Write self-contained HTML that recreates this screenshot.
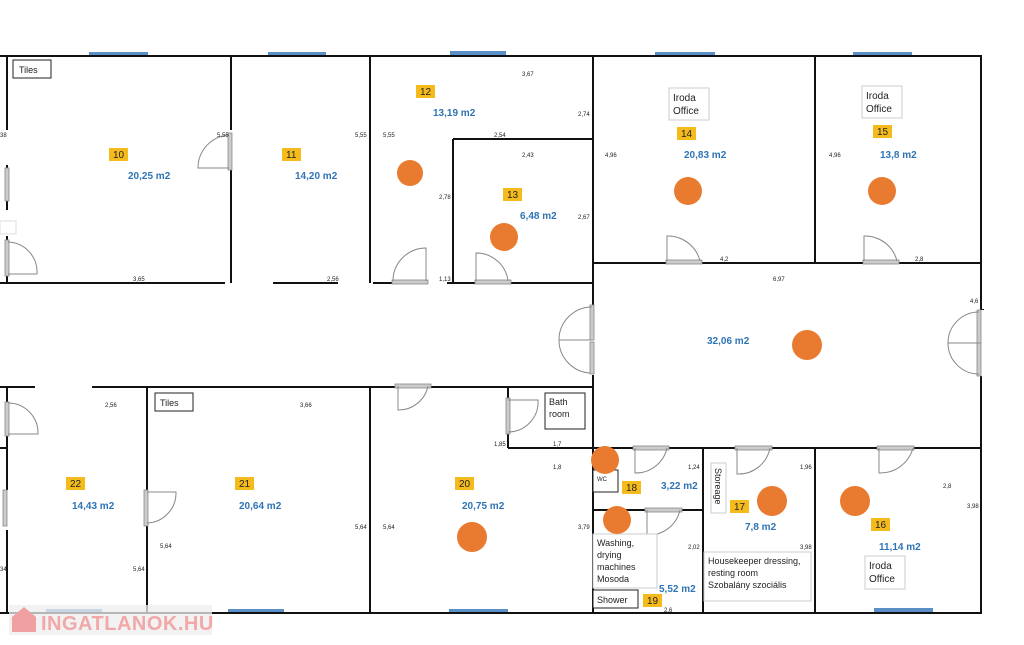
<!DOCTYPE html>
<html><head><meta charset="utf-8"><style>
body{margin:0;background:#fff}
svg{display:block}
text{font-family:"Liberation Sans",sans-serif}
.d{font-size:6px;fill:#222}
.a{font-size:10px;fill:#2e74b5;font-weight:bold}
.n{font-size:10px;fill:#222}
.l{font-size:9px;fill:#222}
.w{stroke:#111;stroke-width:2;fill:none}
.arc{stroke:#888;stroke-width:1;fill:none}
.lf{fill:#ccc;stroke:#888;stroke-width:.8}
.win{fill:#5b8fc7}
.c{fill:#e97b31}
.y{fill:#f5bb1c}
</style></head><body>
<svg width="1024" height="645" viewBox="0 0 1024 645">
<!-- windows -->
<g class="win">
<rect x="89" y="52" width="59" height="5"/><rect x="268" y="52" width="58" height="5"/><rect x="450" y="51" width="56" height="6"/><rect x="655" y="52" width="60" height="5"/><rect x="853" y="52" width="59" height="5"/>
<rect x="46" y="609" width="56" height="5"/><rect x="228" y="609" width="56" height="5"/><rect x="449" y="609" width="59" height="5"/><rect x="874" y="608" width="59" height="6"/>
</g>
<!-- walls -->
<path class="w" d="M0 56H981V613H0
M7 56V130 M7 165V210 M7 236V283
M0 283H225 M273 283H338 M373 283H413 M447 283H593
M231 56V130 M231 168V283
M370 56V283 M453 139V283 M453 139H593
M593 56V305 M593 375V613
M593 263H981 M815 56V263
M981 310H984 
M0 387H35 M92 387H370 M370 387H395 M430 387H593
M7 387H9 M7 387V448 M7 448V490 M7 530V613 M0 448H7
M147 387V490 M147 525V613 M370 387V613
M508 387V448 M508 448H593
M593 448H633 M668 448H735 M770 448H878 M913 448H981
M703 448V613 M815 448V613
M593 510H645 M680 510H703"/>
<rect x="978" y="310" width="8" height="66" fill="#fff"/>
<rect x="590" y="305" width="6" height="70" fill="#fff"/>
<!-- doors -->
<g>
<rect class="lf" x="228" y="133" width="4" height="37"/><path class="arc" d="M229 135A33 33 0 0 0 198 168V168H229"/>
<rect class="lf" x="5" y="168" width="4" height="33"/>
<rect class="lf" x="5" y="240" width="4" height="36"/><path class="arc" d="M8 242A30 30 0 0 1 37 274H8"/>
<rect x="0" y="221" width="16" height="13" fill="#fff" stroke="#ddd"/>
<rect class="lf" x="392" y="280" width="36" height="4"/><path class="arc" d="M426 281V248A33 33 0 0 0 393 281"/>
<rect class="lf" x="475" y="280" width="36" height="4"/><path class="arc" d="M476 281V253A32 32 0 0 1 508 281"/>
<rect class="lf" x="666" y="260" width="36" height="4"/><path class="arc" d="M667 261V236A33 33 0 0 1 700 261"/>
<rect class="lf" x="863" y="260" width="36" height="4"/><path class="arc" d="M864 261V236A33 33 0 0 1 897 261"/>
<rect class="lf" x="590" y="305" width="4" height="35"/><path class="arc" d="M592 307A33 33 0 0 0 559 340H592M592 373A33 33 0 0 1 559 340"/>
<rect class="lf" x="590" y="342" width="4" height="32"/>
<rect class="lf" x="977" y="310" width="4" height="33"/><rect class="lf" x="977" y="343" width="4" height="33"/>
<path class="arc" d="M979 312A31 31 0 0 0 948 343H979M979 374A31 31 0 0 1 948 343"/>
<rect class="lf" x="395" y="384" width="36" height="4"/><path class="arc" d="M398 386V410A30 30 0 0 0 428 386"/>
<rect class="lf" x="506" y="398" width="4" height="36"/><path class="arc" d="M508 400H538A30 30 0 0 1 508 432"/>
<rect class="lf" x="633" y="446" width="36" height="4"/><path class="arc" d="M635 448V473A32 32 0 0 0 667 448"/>
<rect class="lf" x="735" y="446" width="37" height="4"/><path class="arc" d="M737 448V474A32 32 0 0 0 770 448"/>
<rect class="lf" x="877" y="446" width="37" height="4"/><path class="arc" d="M879 448V473A34 34 0 0 0 913 448"/>
<rect class="lf" x="645" y="508" width="37" height="4"/><path class="arc" d="M647 510V535A32 32 0 0 0 680 510"/>
<rect class="lf" x="5" y="402" width="4" height="34"/><path class="arc" d="M8 403A30 30 0 0 1 38 434H8"/>
<rect class="lf" x="3" y="490" width="4" height="36"/>
<rect class="lf" x="144" y="490" width="4" height="36"/><path class="arc" d="M147 492H176A30 30 0 0 1 147 523"/>
</g>
<!-- label boxes -->
<g fill="#fff" stroke="#222" stroke-width="1">
<rect x="13" y="60" width="38" height="18"/><rect x="155" y="393" width="38" height="18"/>
<rect x="545" y="393" width="40" height="36"/><rect x="593" y="470" width="25" height="22"/>
<rect x="593" y="590" width="45" height="18"/>
</g>
<g fill="#fff" stroke="#ccc" stroke-width="1">
<rect x="669" y="88" width="40" height="32"/><rect x="862" y="86" width="40" height="32"/>
<rect x="711" y="463" width="15" height="50"/><rect x="593" y="534" width="64" height="54"/>
<rect x="704" y="552" width="107" height="49"/><rect x="865" y="556" width="40" height="33"/>
</g>
<g class="n">
<text x="19" y="73" font-size="9">Tiles</text><text x="160" y="406" font-size="9">Tiles</text>
<text x="549" y="405" font-size="9">Bath</text><text x="549" y="417" font-size="9">room</text>
<text x="597" y="481" font-size="6">WC</text><text x="597" y="603" font-size="9">Shower</text>
<text x="673" y="101">Iroda</text><text x="673" y="114">Office</text>
<text x="866" y="99">Iroda</text><text x="866" y="112">Office</text>
<text x="869" y="569">Iroda</text><text x="869" y="582">Office</text>
<text class="l" x="597" y="546">Washing,</text><text class="l" x="597" y="558">drying</text><text class="l" x="597" y="570">machines</text><text class="l" x="597" y="582">Mosoda</text>
<text class="l" x="708" y="564">Housekeeper dressing,</text><text class="l" x="708" y="576">resting room</text><text class="l" x="708" y="588">Szobalány szociális</text>
<text class="l" transform="translate(715,468) rotate(90)">Storeage</text>
</g>
<!-- circles -->
<g class="c">
<circle cx="410" cy="173" r="13"/><circle cx="504" cy="237" r="14"/><circle cx="688" cy="191" r="14"/><circle cx="882" cy="191" r="14"/>
<circle cx="807" cy="345" r="15"/><circle cx="605" cy="460" r="14"/><circle cx="617" cy="520" r="14"/><circle cx="472" cy="537" r="15"/>
<circle cx="772" cy="501" r="15"/><circle cx="855" cy="501" r="15"/>
</g>
<!-- number tags -->
<g class="y">
<rect x="109" y="148" width="19" height="13"/><rect x="282" y="148" width="19" height="13"/><rect x="416" y="85" width="19" height="13"/>
<rect x="503" y="188" width="19" height="13"/><rect x="677" y="127" width="19" height="13"/><rect x="873" y="125" width="19" height="13"/>
<rect x="66" y="477" width="19" height="13"/><rect x="235" y="477" width="19" height="13"/><rect x="455" y="477" width="19" height="13"/>
<rect x="622" y="481" width="19" height="13"/><rect x="730" y="500" width="19" height="13"/><rect x="871" y="518" width="19" height="13"/>
<rect x="643" y="594" width="19" height="13"/>
</g>
<g class="n">
<text x="113" y="158">10</text><text x="286" y="158">11</text><text x="420" y="95">12</text><text x="507" y="198">13</text>
<text x="681" y="137">14</text><text x="877" y="135">15</text><text x="70" y="487">22</text><text x="239" y="487">21</text>
<text x="459" y="487">20</text><text x="626" y="491">18</text><text x="734" y="510">17</text><text x="875" y="528">16</text><text x="647" y="604">19</text>
</g>
<g class="a">
<text x="128" y="179">20,25 m2</text><text x="295" y="179">14,20 m2</text><text x="433" y="116">13,19 m2</text>
<text x="520" y="219">6,48 m2</text><text x="684" y="158">20,83 m2</text><text x="880" y="158">13,8 m2</text>
<text x="707" y="344">32,06 m2</text><text x="72" y="509">14,43 m2</text><text x="239" y="509">20,64 m2</text>
<text x="462" y="509">20,75 m2</text><text x="661" y="489">3,22 m2</text><text x="745" y="530">7,8 m2</text>
<text x="879" y="550">11,14 m2</text><text x="659" y="592">5,52 m2</text>
</g>
<g class="d">
<text x="522" y="76">3,67</text><text x="578" y="116">2,74</text><text x="217" y="137">5,55</text><text x="355" y="137">5,55</text><text x="383" y="137">5,55</text>
<text x="494" y="137">2,54</text><text x="522" y="157">2,43</text><text x="439" y="199">2,78</text><text x="578" y="219">2,67</text>
<text x="605" y="157">4,96</text><text x="829" y="157">4,96</text><text x="720" y="261">4,2</text><text x="915" y="261">2,8</text>
<text x="773" y="281">6,97</text><text x="970" y="303">4,6</text><text x="133" y="281">3,65</text><text x="327" y="281">2,56</text><text x="439" y="281">1,13</text>
<text x="105" y="407">2,56</text><text x="300" y="407">3,66</text><text x="494" y="446">1,85</text><text x="553" y="446">1,7</text><text x="553" y="469">1,8</text>
<text x="688" y="469">1,24</text><text x="800" y="469">1,96</text><text x="943" y="488">2,8</text><text x="967" y="508">3,98</text>
<text x="578" y="529">3,79</text><text x="688" y="549">2,02</text><text x="800" y="549">3,98</text><text x="664" y="612">2,6</text>
<text x="160" y="548">5,64</text><text x="133" y="571">5,64</text><text x="355" y="529">5,64</text><text x="383" y="529">5,64</text><text x="0" y="137">38</text><text x="0" y="571">34</text>
</g>
<!-- watermark -->
<rect x="9" y="605" width="203" height="30" fill="#eee" opacity=".75" rx="2"/>
<path d="M12 617L24 607L36 617V632H12Z" fill="#f0a0a0"/>
<text x="41" y="630" font-size="20" font-weight="bold" fill="#f2a8a8" style="letter-spacing:0.5px">INGATLANOK.HU</text>
</svg>
</body></html>
